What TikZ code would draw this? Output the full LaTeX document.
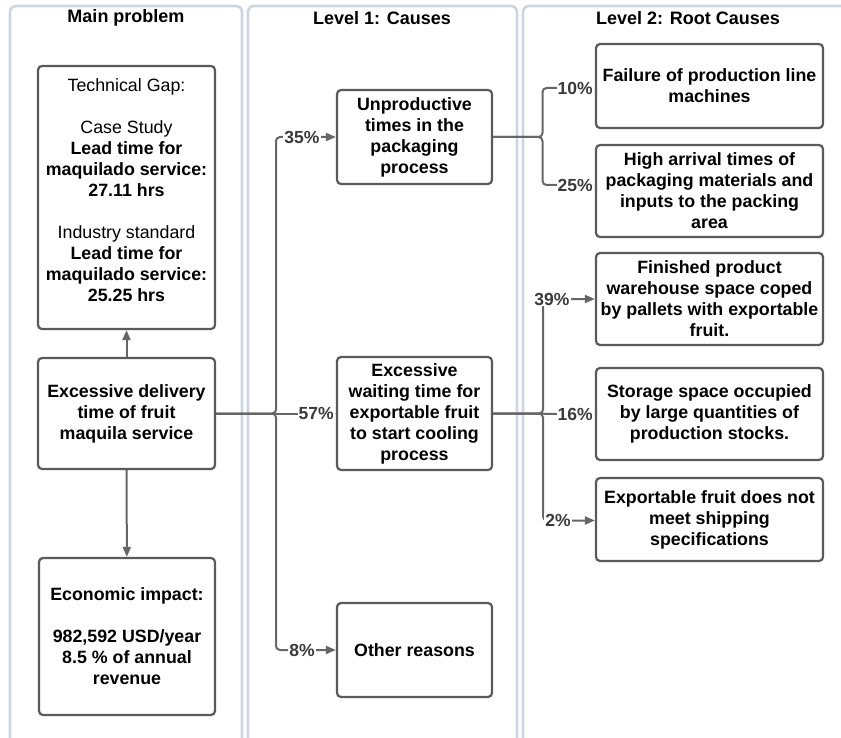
\documentclass[tikz,border=0pt]{standalone}
\usepackage{fontspec}
\setmainfont{Liberation Sans}
\usetikzlibrary{arrows.meta}
\definecolor{lanecol}{HTML}{CDD5E0}
\definecolor{boxcol}{HTML}{5A5A5A}
\definecolor{linecol}{HTML}{666666}
\definecolor{pctcol}{HTML}{3A3A3A}
\tikzset{
  lane/.style={draw=lanecol, line width=2.6pt, rounded corners=6pt},
  header/.style={font=\fontsize{18}{21}\selectfont\bfseries},
  boxtext/.style={align=center, inner sep=0pt, font=\fontsize{17.8}{21}\selectfont\bfseries},
  box/.style={draw=boxcol, line width=2.2pt, rounded corners=4pt, fill=white,
    boxtext, inner sep=2pt},
  conn/.style={draw=linecol, line width=2pt, rounded corners=4pt},
  tip/.style={-{Triangle[length=10pt,width=8pt]}},
  pct/.style={fill=white, text=pctcol, inner sep=1pt,
    font=\fontsize{17.5}{20}\selectfont\bfseries}
}
\begin{document}
\begin{tikzpicture}[x=1pt, y=-1pt]
\useasboundingbox (0,0) rectangle (841,738);

% swimlanes
\draw[lane] (10,760) -- (10,6) -- (242,6) -- (242,760);
\draw[lane] (248,760) -- (248,6) -- (517,6) -- (517,760);
\draw[lane] (523,760) -- (523,6) -- (870,6) -- (870,760);
\node[header] (h1) at (126,18) {Main problem};
\node[header] (h2) at (382,18) {Level 1: Causes};
\node[header] (h3) at (688,18) {Level 2: Root Causes};

% main problem column
\node[box, minimum width=177pt, minimum height=263pt] (tech) at (126.5,197.5) {};
\node[boxtext] (techtxt) at (126.5,190)
  {\mdseries Technical Gap:\\[21pt]
   \mdseries Case Study\\
   Lead time for\\ maquilado service:\\ 27.11 hrs\\[21pt]
   \mdseries Industry standard\\
   Lead time for\\ maquilado service:\\ 25.25 hrs};
\node[box, minimum width=177pt, minimum height=111pt] (main) at (126.5,413.5)
  {Excessive delivery\\ time of fruit\\ maquila service};
\node[box, minimum width=176pt, minimum height=157pt] (econ) at (127,636.5)
  {Economic impact:\\[21pt] 982,592 USD/year\\ 8.5 \% of annual\\ revenue};

% level 1 causes
\node[box, minimum width=155pt, minimum height=94pt] (c1) at (414.5,137)
  {Unproductive\\ times in the\\ packaging\\ process};
\node[box, minimum width=155pt, minimum height=113pt] (c2) at (414.5,413.5)
  {Excessive\\ waiting time for\\ exportable fruit\\ to start cooling\\ process};
\node[box, minimum width=155pt, minimum height=94pt] (c3) at (414.5,650)
  {Other reasons};

% level 2 root causes
\node[box, minimum width=227pt, minimum height=84pt] (r1) at (709.5,86)
  {Failure of production line\\ machines};
\node[box, minimum width=227pt, minimum height=92pt] (r2) at (709.5,191)
  {High arrival times of\\ packaging materials and\\ inputs to the packing\\ area};
\node[box, minimum width=227pt, minimum height=92pt] (r3) at (709.5,299)
  {Finished product\\ warehouse space coped\\ by pallets with exportable\\ fruit.};
\node[box, minimum width=227pt, minimum height=92pt] (r4) at (709.5,414)
  {Storage space occupied\\ by large quantities of\\ production stocks.};
\node[box, minimum width=227pt, minimum height=83pt] (r5) at (709.5,519.5)
  {Exportable fruit does not\\ meet shipping\\ specifications};

% branch points
\coordinate (ja) at (276,413.5);
\coordinate (jb) at (542.5,137);
\coordinate (jc) at (543,413.5);

% connectors
\draw[conn, tip] (main) -- (tech);
\draw[conn, tip] (main) -- (econ);
\draw[conn, tip] (main.east) -- (ja) |- (c1.west);
\draw[conn, tip] (main.east) -- (c2.west);
\draw[conn, tip] (main.east) -- (ja) |- (c3.west);

\draw[conn, tip] (c1.east) -- (jb) |- ([yshift=-2pt]r1.west);
\draw[conn, tip] (c1.east) -- (jb) |- ([yshift=6pt]r2.west);

\draw[conn, tip] (c2.east) -- (jc) |- (r3.west);
\draw[conn, tip] (c2.east) -- (r4.west);
\draw[conn, tip] (c2.east) -- (jc) |- ([yshift=-1pt]r5.west);

% percentages
\node[pct] (p35) at (302,137) {35\%};
\node[pct, anchor=east] (p57) at ([xshift=-1pt]c2.west) {57\%};
\node[pct] (p8) at (302,650) {8\%};
\node[pct, anchor=east] (p10) at ([xshift=-1pt,yshift=-2pt]r1.west) {10\%};
\node[pct, anchor=east] (p25) at ([xshift=-1pt,yshift=6pt]r2.west) {25\%};
\node[pct] (p39) at (552,299) {39\%};
\node[pct, anchor=east] (p16) at ([xshift=-1pt]r4.west) {16\%};
\node[pct] (p2) at (558,520.5) {2\%};
\end{tikzpicture}
\end{document}
